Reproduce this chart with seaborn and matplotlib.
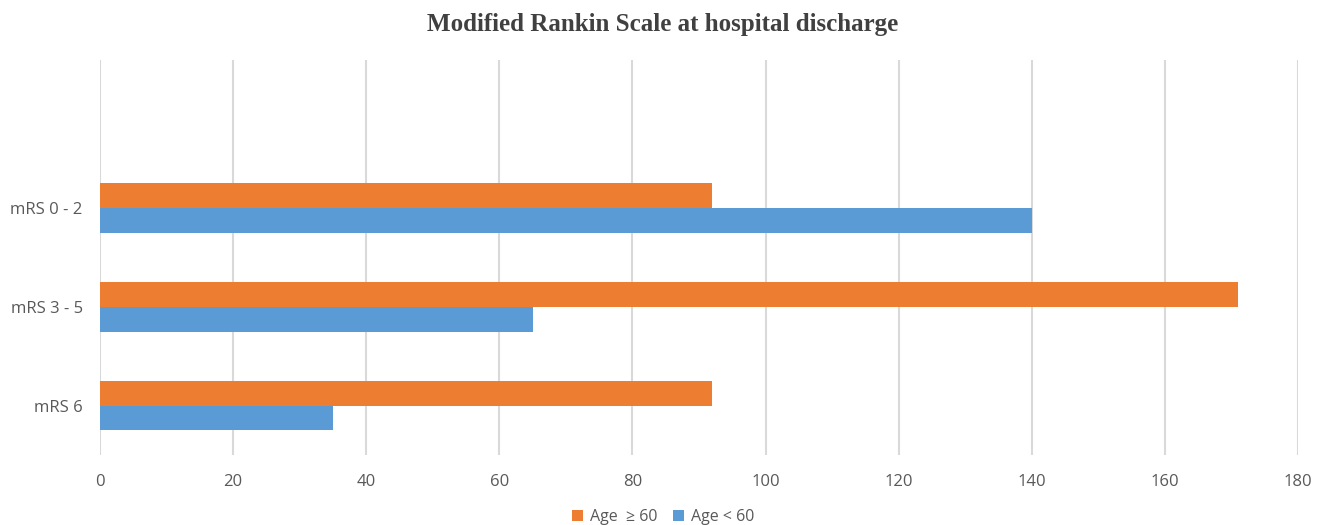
import matplotlib
matplotlib.use("Agg")
import matplotlib.pyplot as plt
import seaborn as sns
import pandas as pd

# Discharge outcome counts by age group
categories = ["mRS 0 - 2", "mRS 3 - 5", "mRS 6"]
age_60_plus = [92, 171, 92]
age_under_60 = [140, 65, 35]
groups = ["Age  \u2265 60", "Age < 60"]
x_ticks = [0, 20, 40, 60, 80, 100, 120, 140, 160, 180]

df = pd.DataFrame({
    "category": categories * 2,
    "count": age_60_plus + age_under_60,
    "group": [groups[0]] * len(categories) + [groups[1]] * len(categories),
})

sns.set_theme(style="white")
plt.rcParams["font.family"] = ["Open Sans", "DejaVu Sans"]

fig = plt.figure(figsize=(13.26, 5.25), dpi=100)
ax = fig.add_axes([100 / 1326, 1 - 455 / 525, 1198 / 1326, 395 / 525])

palette = {groups[0]: "#ED7D31", groups[1]: "#5B9BD5"}
sns.barplot(data=df, x="count", y="category", hue="group", order=categories,
            hue_order=groups, palette=palette, orient="h", width=0.5,
            saturation=1, linewidth=0, ax=ax, legend=True)

ax.set_xlim(0, 180)
ax.set_ylim(2.5, -1.5)
ax.set_xticks(x_ticks)
ax.set_xticklabels([str(t) for t in x_ticks])
ax.xaxis.grid(True, color="#D9D9D9", linewidth=1.5)
ax.set_axisbelow(True)
for s in ax.spines.values():
    s.set_visible(False)
ax.set_xlabel("")
ax.set_ylabel("")
ax.tick_params(axis="both", length=0, labelsize=12, colors="#595959")
ax.tick_params(axis="x", pad=14)
ax.tick_params(axis="y", pad=12.5)

fig.text(0.5, 1 - 25 / 525, "Modified Rankin Scale at hospital discharge",
         ha="center", va="center", fontsize=18, fontweight="bold",
         family="Liberation Serif", color="#404040")

handles, labels = ax.get_legend_handles_labels()
ax.get_legend().remove()
fig.legend(handles, labels, loc="center", bbox_to_anchor=(0.5, 1 - 517 / 525),
           ncol=2, frameon=False, fontsize=11.5, handlelength=0.7,
           handleheight=0.7, handletextpad=0.4, columnspacing=1.0,
           labelcolor="#595959")

fig.savefig("out.png", dpi=100)
